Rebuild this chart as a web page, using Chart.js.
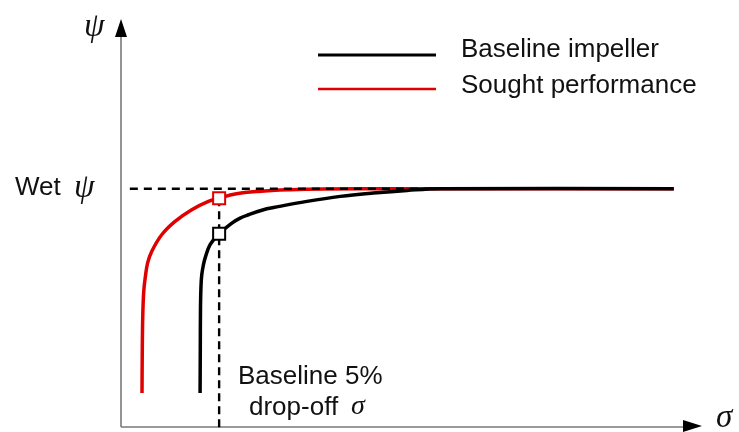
<!DOCTYPE html>
<html>
<head>
<meta charset="utf-8">
<script src="https://cdn.jsdelivr.net/npm/chart.js@4"></script>
<style>
  html, body { margin: 0; padding: 0; background: #fff; overflow: hidden; }
  canvas { display: block; }
</style>
</head>
<body>
<canvas id="chart" width="739" height="432"></canvas>
<script>
// ---- data (sigma, psi), psi normalised to wet psi = 1, sigma to baseline drop-off = 1 ----
const baselineSigma = [0.806, 0.808, 0.810, 0.815, 0.823, 0.840, 0.857, 0.908, 1.0, 1.130, 1.214, 1.299, 1.452, 1.554, 1.895, 2.235, 2.571, 2.915, 3.255, 5.633];
const baselinePsi   = [0.143, 0.330, 0.500, 0.590, 0.639, 0.681, 0.709, 0.765, 0.811, 0.856, 0.877, 0.891, 0.912, 0.921, 0.947, 0.968, 0.982, 0.993, 1.0, 1.0];

const soughtSigma = [0.214, 0.217, 0.222, 0.232, 0.248, 0.272, 0.313, 0.415, 0.551, 0.721, 0.891, 1.0, 1.163, 1.398, 1.724, 2.061, 2.85, 5.633];
const soughtPsi   = [0.143, 0.330, 0.470, 0.570, 0.630, 0.690, 0.737, 0.807, 0.863, 0.912, 0.947, 0.960, 0.978, 0.989, 0.996, 0.999, 1.0, 1.0];

const wetPsi = 1.0;
const dropOffSigma = 1.0;
const wetLineSigma = [0.09, 3.3];

const legendLabels = ['Baseline impeller', 'Sought performance'];

const toPoints = (xs, ys) => xs.map((x, i) => ({ x: x, y: ys[i] }));
const baselineAtDrop = baselinePsi[baselineSigma.indexOf(dropOffSigma)];
const soughtAtDrop = soughtPsi[soughtSigma.indexOf(dropOffSigma)];

// ---- axes, arrows, legend and annotations ----
const decorPlugin = {
    id: 'decor',
    beforeDatasetsDraw(chart) {
        const ctx = chart.ctx;
        const xs = chart.scales.x, ys = chart.scales.y;
        const x0 = xs.getPixelForValue(0), y0 = ys.getPixelForValue(0);
        ctx.save();
        ctx.strokeStyle = '#7a7a7a';
        ctx.lineWidth = 1.6;
        ctx.beginPath();
        ctx.moveTo(x0, y0);
        ctx.lineTo(x0, 34);
        ctx.moveTo(x0, y0);
        ctx.lineTo(688, y0);
        ctx.stroke();
        ctx.fillStyle = '#000';
        ctx.beginPath();
        ctx.moveTo(x0, 19);
        ctx.lineTo(x0 - 6, 37);
        ctx.lineTo(x0 + 6, 37);
        ctx.closePath();
        ctx.fill();
        ctx.beginPath();
        ctx.moveTo(702, y0 - 1);
        ctx.lineTo(683, y0 - 7);
        ctx.lineTo(683, y0 + 5);
        ctx.closePath();
        ctx.fill();
        ctx.restore();
    },
    afterDraw(chart) {
        const ctx = chart.ctx;
        ctx.save();
        ctx.fillStyle = '#111';
        ctx.textBaseline = 'alphabetic';
        // axis symbols
        ctx.font = 'italic 33px "Liberation Serif"';
        ctx.textAlign = 'left';
        ctx.fillText('ψ', 84, 36);
        ctx.fillText('σ', 716, 427);
        // legend
        ctx.lineWidth = 3;
        ctx.strokeStyle = '#000';
        ctx.beginPath(); ctx.moveTo(318, 55); ctx.lineTo(436, 55); ctx.stroke();
        ctx.strokeStyle = '#e00000';
        ctx.lineWidth = 2.5;
        ctx.beginPath(); ctx.moveTo(318, 89); ctx.lineTo(436, 89); ctx.stroke();
        ctx.font = '26px "Liberation Sans"';
        ctx.fillText(legendLabels[0], 461, 57);
        ctx.fillText(legendLabels[1], 461, 93);
        // wet psi label
        ctx.fillText('Wet', 15, 195);
        ctx.font = 'italic 33px "Liberation Serif"';
        ctx.fillText('ψ', 74, 197);
        // drop-off label
        ctx.font = '26px "Liberation Sans"';
        ctx.fillText('Baseline 5%', 238, 384);
        ctx.fillText('drop-off', 249, 415);
        ctx.font = 'italic 28px "Liberation Serif"';
        ctx.fillText('σ', 351, 414);
        ctx.restore();
    }
};

const chart = new Chart(document.getElementById('chart'), {
    type: 'scatter',
    data: {
        datasets: [
            {
                label: legendLabels[0],
                data: toPoints(baselineSigma, baselinePsi),
                showLine: true,
                borderColor: '#000',
                borderWidth: 3.5,
                pointRadius: 0,
                tension: 0.4,
                order: 2
            },
            {
                label: legendLabels[1],
                data: toPoints(soughtSigma, soughtPsi),
                showLine: true,
                borderColor: '#e00000',
                borderWidth: 3.5,
                pointRadius: 0,
                tension: 0.4,
                order: 2
            },
            {
                label: 'wet',
                data: wetLineSigma.map(x => ({ x: x, y: wetPsi })),
                showLine: true,
                borderColor: '#000',
                borderWidth: 2.4,
                borderDash: [8, 6],
                pointRadius: 0,
                order: 1
            },
            {
                label: 'drop',
                data: [{ x: dropOffSigma, y: soughtAtDrop }, { x: dropOffSigma, y: -0.021 }],
                showLine: true,
                borderColor: '#000',
                borderWidth: 2.4,
                borderDash: [8, 5],
                pointRadius: 0,
                order: 1
            },
            {
                label: 'sought marker',
                data: [{ x: dropOffSigma, y: soughtAtDrop }],
                pointStyle: 'rect',
                pointRadius: 8.5,
                pointBackgroundColor: '#fff',
                pointBorderColor: '#e00000',
                pointBorderWidth: 2,
                order: 0
            },
            {
                label: 'baseline marker',
                data: [{ x: dropOffSigma, y: baselineAtDrop }],
                pointStyle: 'rect',
                pointRadius: 8.5,
                pointBackgroundColor: '#fff',
                pointBorderColor: '#000',
                pointBorderWidth: 2,
                order: 0
            }
        ]
    },
    options: {
        responsive: false,
        animation: false,
        layout: { autoPadding: false, padding: { left: 121, right: 39, top: 22, bottom: 0 } },
        plugins: { legend: { display: false }, tooltip: { enabled: false } },
        scales: {
            x: { type: 'linear', min: 0, max: 5.9, display: false },
            y: { type: 'linear', min: -0.021, max: 1.7, display: false }
        }
    },
    plugins: [decorPlugin]
});
</script>
</body>
</html>
